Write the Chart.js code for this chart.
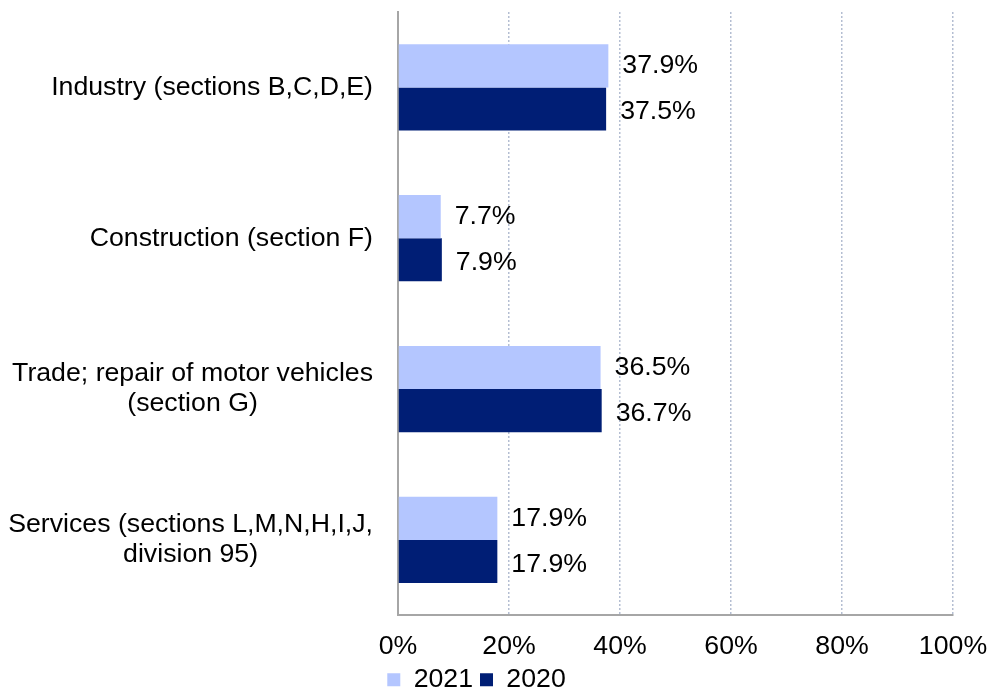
<!DOCTYPE html>
<html>
<head>
<meta charset="utf-8">
<script src="https://cdn.jsdelivr.net/npm/chart.js@4/dist/chart.umd.min.js"></script>
<style>
  html, body { margin: 0; padding: 0; background: #ffffff; }
  #wrap { width: 990px; height: 688px; }
</style>
</head>
<body>
<div id="wrap"><canvas id="c" width="990" height="688"></canvas></div>
<script>
const categories = [
  ["Industry (sections B,C,D,E)"],
  ["Construction (section F)"],
  ["Trade; repair of motor vehicles", "(section G)"],
  ["Services (sections L,M,N,H,I,J,", "division 95)"]
];
const seriesNames = ["2021", "2020"];
const values2021 = [37.9, 7.7, 36.5, 17.9];
const values2020 = [37.5, 7.9, 36.7, 17.9];
const xTicks = [0, 20, 40, 60, 80, 100];

const FONT = "'Liberation Sans', Arial, sans-serif";
const FS = 26.7;

const valueLabels = {
  id: 'valueLabels',
  afterDatasetsDraw(chart) {
    const ctx = chart.ctx;
    ctx.save();
    ctx.font = FS + "px " + FONT;
    ctx.fillStyle = '#000000';
    ctx.textAlign = 'left';
    ctx.textBaseline = 'middle';
    chart.data.datasets.forEach((ds, di) => {
      const meta = chart.getDatasetMeta(di);
      meta.data.forEach((el, i) => {
        const dy = di === 0 ? 0 : 3;
        ctx.fillText(ds.data[i].toFixed(1) + '%', el.x + 14, el.y + dy);
      });
    });
    ctx.restore();
  }
};

const categoryLabels = {
  id: 'categoryLabels',
  afterDraw(chart) {
    const ctx = chart.ctx;
    const y = chart.scales.y;
    ctx.save();
    ctx.font = FS + "px " + FONT;
    ctx.fillStyle = '#000000';
    ctx.textAlign = 'center';
    ctx.textBaseline = 'middle';
    const right = 373, lh = 30;
    categories.forEach((lines, i) => {
      const cy = y.getPixelForValue(i);
      const w = Math.max(...lines.map(l => ctx.measureText(l).width));
      const cx = right - w / 2;
      const start = cy - (lines.length - 1) * lh / 2;
      lines.forEach((l, k) => ctx.fillText(l, cx, start + k * lh));
    });
    ctx.restore();
  }
};

new Chart(document.getElementById('c'), {
  type: 'bar',
  data: {
    labels: categories.map(c => c.join(' ')),
    datasets: [
      { label: seriesNames[0], data: values2021, backgroundColor: '#B4C6FF', borderWidth: 0,
        categoryPercentage: 0.572, barPercentage: 1.0 },
      { label: seriesNames[1], data: values2020, backgroundColor: '#001E75', borderWidth: 0,
        categoryPercentage: 0.572, barPercentage: 1.0 }
    ]
  },
  options: {
    indexAxis: 'y',
    responsive: false,
    animation: false,
    devicePixelRatio: 1,
    layout: { padding: { top: 12, right: 37, left: 0, bottom: -15 } },
    plugins: {
      legend: {
        position: 'bottom',
        labels: {
          font: { family: FONT, size: FS },
          color: '#000000',
          boxWidth: 13,
          boxHeight: 13,
          padding: 7
        }
      },
      tooltip: { enabled: false }
    },
    scales: {
      x: {
        min: 0, max: 100,
        afterBuildTicks(scale) { scale.ticks = xTicks.map(v => ({ value: v })); },
        afterFit(scale) { scale.height = 44; scale.paddingLeft = 0; scale.paddingRight = 0; },
        ticks: {
          font: { family: FONT, size: FS },
          color: '#000000',
          padding: 15,
          maxRotation: 0,
          callback: v => v + '%'
        },
        grid: {
          drawTicks: false,
          color: ctx => (ctx.tick && ctx.tick.value === 0) ? 'rgba(0,0,0,0)' : '#B4BED2',
          lineWidth: 1.5
        },
        border: { display: true, color: '#A6A6A6', width: 2, dash: [2, 2] }
      },
      y: {
        afterFit(scale) { scale.width = 398; },
        ticks: { display: false },
        grid: { display: false, drawTicks: false },
        border: { display: true, color: '#A6A6A6', width: 2 }
      }
    }
  },
  plugins: [valueLabels, categoryLabels]
});
</script>
</body>
</html>
